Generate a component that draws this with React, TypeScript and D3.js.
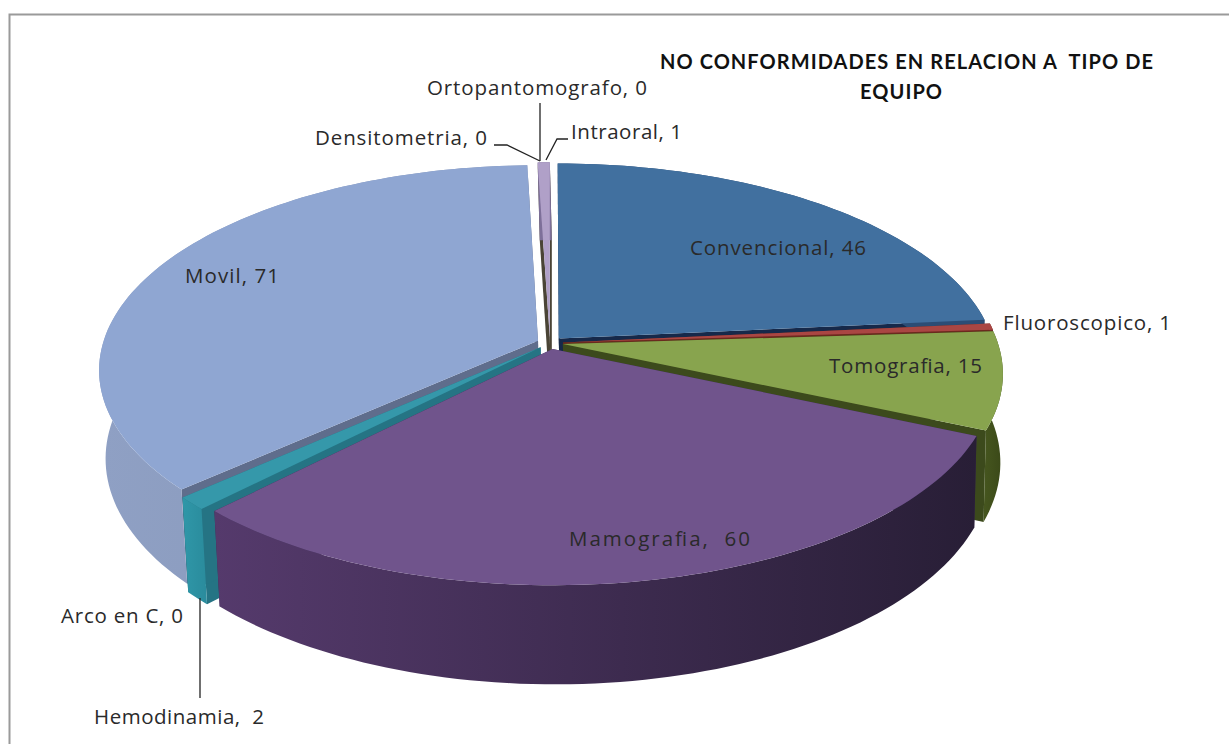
import React from "react";
import * as d3 from "d3";

const categories = ["Convencional", "Fluoroscopico", "Tomografia", "Mamografia", "Arco en C", "Hemodinamia", "Movil", "Densitometria", "Ortopantomografo", "Intraoral"];
const values = [46, 1, 15, 60, 0, 2, 71, 0, 0, 1];
const topColors = ["#41709f", "#aa4643", "#88a44e", "#70548c", "#4198af", "#3598aa", "#8fa6d2", "#999999", "#999999", "#b0a0c8"];
const wallLeft = ["#2c4d75", "#6f2a28", "#46561f", "#553a6c", "#2c7f90", "#2f97a8", "#8fa0c4", "#777777", "#777777", "#7d6f99"];
const wallRight = ["#2c4d75", "#6f2a28", "#3a4818", "#281e36", "#2c7f90", "#2a8b9c", "#8595b5", "#777777", "#777777", "#7d6f99"];
const faceColors = ["#16294a", "#6a2a1e", "#3c4a1c", "#3a2b52", "#20606e", "#257484", "#5f6d8c", "#555555", "#555555", "#4a4436"];
const drawOrder = [6, 9, 0, 1, 2, 5, 3];
const labelTexts = ["Convencional, 46", "Fluoroscopico, 1", "Tomografia, 15", "Mamografia,  60", "Arco en C, 0", "Hemodinamia,  2", "Movil, 71", "Densitometria, 0", "Ortopantomografo, 0", "Intraoral, 1"];
const labelLeft = [690, 1003, 829, 569, 61, 94, 185, 315, 427, 571];
const labelWidth = [176, 168, 153, 181, 122, 170, 94, 172, 220, 111];
const labelBase = [255, 330, 373, 546, 623, 724, 283, 145, 95, 139];
const titleLines = ["NO CONFORMIDADES EN RELACION A  TIPO DE", "EQUIPO"];
const titleLeft = [660, 860];
const titleWidth = [493, 82];
const titleBase = [69, 99];
const leaders = [
  [[540, 103], [540, 161]],
  [[494, 145], [507, 145], [540, 161]],
  [[568, 139], [557, 139], [546, 160]],
  [[200, 598], [200, 698]],
];

const W = 1229, H = 744;
const cx = 550, cy = 343, R = 435, Q = 201, K = 0.1416, EXPLODE = 0.03;
const SINK = 87, SHRINK_X = 0.99, SHIFT_X = 2, STRETCH_Y = 1.05;

const project = (u: number, v: number, bottom: boolean): [number, number] => {
  const s = 1 / (1 - K * v);
  const x = R * u * s;
  const y = Q * v * s;
  return bottom ? [cx + SHIFT_X + x * SHRINK_X, cy + SINK + y * STRETCH_Y] : [cx + x, cy + y];
};

const arcs = d3.pie<number>().sort(null).value((d) => d)(values);
const line = d3.line().curve(d3.curveLinear);

const geo = (i: number) => {
  const a = arcs[i];
  const mid = (a.startAngle + a.endAngle) / 2;
  const ox = EXPLODE * Math.sin(mid);
  const oy = -EXPLODE * Math.cos(mid);
  const pt = (t: number | null, b: boolean) =>
    t === null ? project(ox, oy, b) : project(ox + Math.sin(t), oy - Math.cos(t), b);
  const n = Math.max(4, Math.ceil((a.endAngle - a.startAngle) * 40));
  const ts = d3.range(n + 1).map((k) => a.startAngle + ((a.endAngle - a.startAngle) * k) / n);
  const topArc = ts.map((t) => pt(t, false));
  const botArc = ts.map((t) => pt(t, true));
  return {
    top: line([pt(null, false), ...topArc])! + "Z",
    wall: line([...topArc, ...botArc.slice().reverse()])! + "Z",
    faceA: line([pt(null, false), pt(a.startAngle, false), pt(a.startAngle, true), pt(null, true)])! + "Z",
    faceB: line([pt(null, false), pt(a.endAngle, false), pt(a.endAngle, true), pt(null, true)])! + "Z",
  };
};

export default function App() {
  return (
    <svg width={W} height={H} style={{ position: "absolute", left: 0, top: 0, background: "#fff" }}>
      <defs>
        {values.map((_, i) => (
          <linearGradient key={i} id={`wall${i}`} gradientUnits="objectBoundingBox" x1="0" x2="1" y1="0" y2="0">
            <stop offset="0" stopColor={wallLeft[i]} />
            <stop offset="1" stopColor={wallRight[i]} />
          </linearGradient>
        ))}
      </defs>
      <path d="M9.5,744V14.5H1229" fill="none" stroke="#9a9a9a" strokeWidth={2} />
      {drawOrder.map((i) => {
        const g = geo(i);
        return (
          <g key={categories[i]}>
            <path d={g.faceA} fill={faceColors[i]} />
            <path d={g.faceB} fill={faceColors[i]} />
            <path d={g.wall} fill={`url(#wall${i})`} />
            <path d={g.top} fill={topColors[i]} />
          </g>
        );
      })}
      {leaders.map((l, i) => (
        <path key={i} d={line(l as [number, number][])!} fill="none" stroke="#222" strokeWidth={1.3} />
      ))}
      {labelTexts.map((t, i) => (
        <text key={t} x={labelLeft[i]} y={labelBase[i]} textLength={labelWidth[i]} lengthAdjust="spacing" fontFamily="'Open Sans', sans-serif" fontSize={20.5} fill="#2a2a2a" style={{ whiteSpace: "pre" }}>
          {t}
        </text>
      ))}
      {titleLines.map((t, i) => (
        <text key={t} x={titleLeft[i]} y={titleBase[i]} textLength={titleWidth[i]} lengthAdjust="spacing" fontFamily="Lato, sans-serif" fontSize={20} fontWeight={700} fill="#111" style={{ whiteSpace: "pre" }}>
          {t}
        </text>
      ))}
    </svg>
  );
}
